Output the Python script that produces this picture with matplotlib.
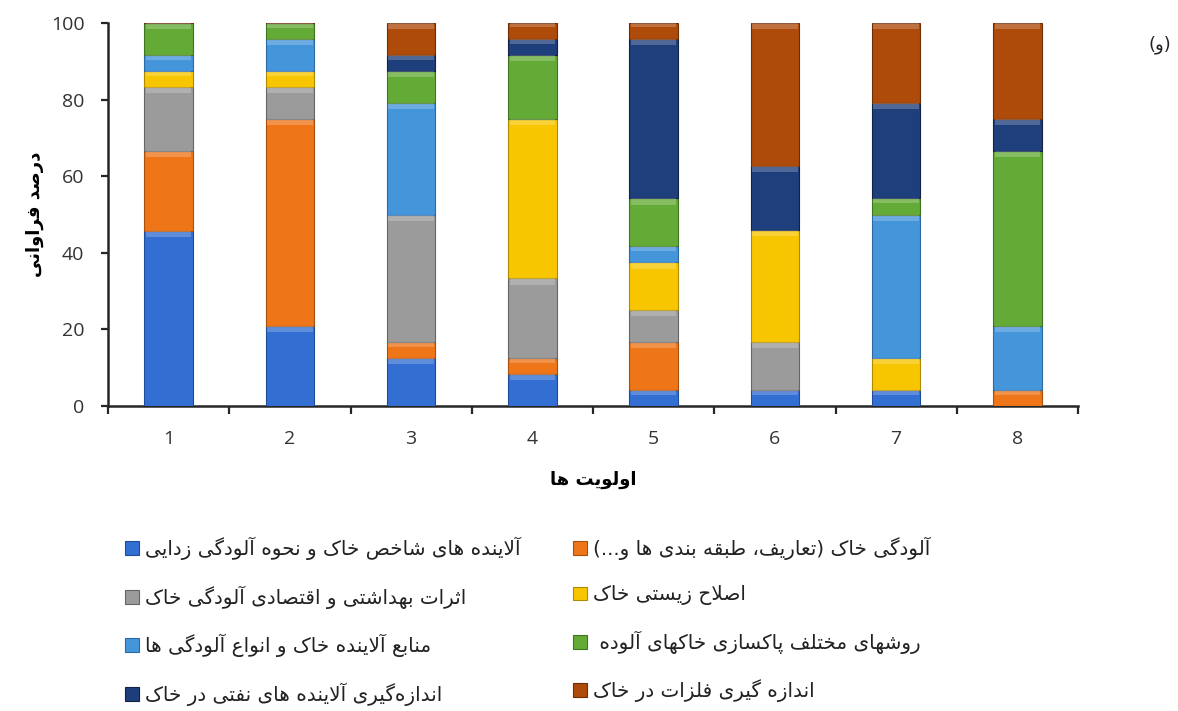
import numpy as np
import matplotlib
matplotlib.use('Agg')
import matplotlib.pyplot as plt
from matplotlib.patches import Patch

# Basic Persian shaping (presentation forms + visual order) since matplotlib has no bidi
FORMS = {
    'ا': ('\uFE8D', '\uFE8E', None, None),
    'آ': ('\uFE81', '\uFE82', None, None),
    'ب': ('\uFE8F', '\uFE90', '\uFE91', '\uFE92'),
    'پ': ('\uFB56', '\uFB57', '\uFB58', '\uFB59'),
    'ت': ('\uFE95', '\uFE96', '\uFE97', '\uFE98'),
    'ث': ('\uFE99', '\uFE9A', '\uFE9B', '\uFE9C'),
    'ج': ('\uFE9D', '\uFE9E', '\uFE9F', '\uFEA0'),
    'ح': ('\uFEA1', '\uFEA2', '\uFEA3', '\uFEA4'),
    'خ': ('\uFEA5', '\uFEA6', '\uFEA7', '\uFEA8'),
    'د': ('\uFEA9', '\uFEAA', None, None),
    'ذ': ('\uFEAB', '\uFEAC', None, None),
    'ر': ('\uFEAD', '\uFEAE', None, None),
    'ز': ('\uFEAF', '\uFEB0', None, None),
    'س': ('\uFEB1', '\uFEB2', '\uFEB3', '\uFEB4'),
    'ش': ('\uFEB5', '\uFEB6', '\uFEB7', '\uFEB8'),
    'ص': ('\uFEB9', '\uFEBA', '\uFEBB', '\uFEBC'),
    'ط': ('\uFEC1', '\uFEC2', '\uFEC3', '\uFEC4'),
    'ع': ('\uFEC9', '\uFECA', '\uFECB', '\uFECC'),
    'ف': ('\uFED1', '\uFED2', '\uFED3', '\uFED4'),
    'ق': ('\uFED5', '\uFED6', '\uFED7', '\uFED8'),
    'ک': ('\uFB8E', '\uFB8F', '\uFB90', '\uFB91'),
    'گ': ('\uFB92', '\uFB93', '\uFB94', '\uFB95'),
    'ل': ('\uFEDD', '\uFEDE', '\uFEDF', '\uFEE0'),
    'م': ('\uFEE1', '\uFEE2', '\uFEE3', '\uFEE4'),
    'ن': ('\uFEE5', '\uFEE6', '\uFEE7', '\uFEE8'),
    'ه': ('\uFEE9', '\uFEEA', '\uFEEB', '\uFEEC'),
    'و': ('\uFEED', '\uFEEE', None, None),
    'ی': ('\uFBFC', '\uFBFD', '\uFBFE', '\uFBFF'),
}
LAM_ALEF = {'ا': ('\uFEFB', '\uFEFC'), 'آ': ('\uFEF5', '\uFEF6')}


def joins_next(c):
    return c in FORMS and FORMS[c][2] is not None


def fa(text):
    chars = list(text)
    out = []
    i = 0
    while i < len(chars):
        c = chars[i]
        if c not in FORMS:
            if c != '\u200c':
                out.append(c)
            i += 1
            continue
        jp = i > 0 and joins_next(chars[i - 1])
        if c == 'ل' and i + 1 < len(chars) and chars[i + 1] in LAM_ALEF:
            iso, fin = LAM_ALEF[chars[i + 1]]
            out.append(fin if jp else iso)
            i += 2
            continue
        jn = joins_next(c) and i + 1 < len(chars) and chars[i + 1] in FORMS
        iso, fin, ini, med = FORMS[c]
        if jp and jn:
            out.append(med)
        elif jp:
            out.append(fin)
        elif jn:
            out.append(ini)
        else:
            out.append(iso)
        i += 1
    vis = ''.join(reversed(out))
    return vis.translate(str.maketrans('()', ')('))


# Data (percent of responses per priority)
priorities = ['1', '2', '3', '4', '5', '6', '7', '8']
series_names = [
    'آلاینده های شاخص خاک و نحوه آلودگی زدایی',
    'آلودگی خاک (تعاریف، طبقه بندی ها و...)',
    'اثرات بهداشتی و اقتصادی آلودگی خاک',
    'اصلاح زیستی خاک',
    'منابع آلاینده خاک و انواع آلودگی ها',
    'روشهای مختلف پاکسازی خاکهای آلوده ',
    'اندازه\u200cگیری آلاینده های نفتی در خاک',
    'اندازه گیری فلزات در خاک',
]
indicator_pollutants = [45.8, 20.8, 12.5, 8.3, 4.2, 4.2, 4.2, 0.0]
soil_pollution = [20.8, 54.2, 4.2, 4.2, 12.5, 0.0, 0.0, 4.2]
health_effects = [16.7, 8.3, 33.3, 20.8, 8.3, 12.5, 0.0, 0.0]
bioremediation = [4.2, 4.2, 0.0, 41.7, 12.5, 29.2, 8.3, 0.0]
pollution_sources = [4.2, 8.3, 29.2, 0.0, 4.2, 0.0, 37.5, 16.7]
cleanup_methods = [8.3, 4.2, 8.3, 16.7, 12.5, 0.0, 4.2, 45.8]
oil_pollutants = [0.0, 0.0, 4.2, 4.2, 41.7, 16.7, 25.0, 8.3]
metals = [0.0, 0.0, 8.3, 4.2, 4.2, 37.5, 20.8, 25.0]

series_values = [indicator_pollutants, soil_pollution, health_effects, bioremediation,
                 pollution_sources, cleanup_methods, oil_pollutants, metals]
colors = ['#336ED2', '#EE7518', '#9B9B9B', '#F7C600', '#4595DB', '#64AA36', '#1F3E7C', '#AE4A0A']
edges = ['#1F4C9A', '#A9500E', '#666666', '#B08A00', '#2B6AA5', '#3F7420', '#0F2248', '#6E2E05']

fig = plt.figure(figsize=(11.78, 7.11), dpi=100)
ax = fig.add_axes([108 / 1178, 1 - 406 / 711, 970 / 1178, 383 / 711])

x = np.arange(1, len(priorities) + 1)
bar_w = 0.40
bottom = np.zeros(len(priorities))
handles = []
for vals, col, ec in zip(series_values, colors, edges):
    vals = np.array(vals)
    ax.bar(x, vals, width=bar_w, bottom=bottom, color=col, edgecolor=ec, linewidth=0.8, zorder=3)
    # bevel look: light band along the top of each segment
    top_h = np.minimum(1.6, 0.3 * vals)
    ax.bar(x, top_h, width=bar_w * 0.94, bottom=bottom + vals - top_h, color='white',
           alpha=0.22, linewidth=0, zorder=4)
    bottom += vals
    handles.append(Patch(facecolor=col, edgecolor=ec, linewidth=0.8))

ax.set_xlim(0.5, 8.5)
ax.set_ylim(0, 100)
ax.set_yticks([0, 20, 40, 60, 80, 100])
ax.set_xticks(x)
ax.set_xticklabels(priorities)
ax.set_xticks(np.arange(0.5, 9.0, 1.0), minor=True)

for side in ['top', 'right']:
    ax.spines[side].set_visible(False)
for side in ['left', 'bottom']:
    ax.spines[side].set_linewidth(1.8)
    ax.spines[side].set_color('#262626')

ax.tick_params(axis='y', direction='out', length=5, width=1.6, color='#262626',
               labelsize=14, labelcolor='#333333', pad=12)
ax.tick_params(axis='x', which='major', length=0, labelsize=14, labelcolor='#333333', pad=17)
ax.tick_params(axis='x', which='minor', direction='out', length=6, width=1.6, color='#262626')
for lbl in ax.get_xticklabels() + ax.get_yticklabels():
    lbl.set_family('Open Sans')

ax.set_xlabel(fa('اولویت ها'), fontsize=13, fontweight='bold', family='DejaVu Sans', labelpad=17)
ax.set_ylabel(fa('درصد فراوانی'), fontsize=13, fontweight='bold', family='DejaVu Sans', labelpad=5)

fig.text(1160 / 1178, 1 - 45 / 711, fa('(و)'), fontsize=13, family='DejaVu Sans',
         ha='center', va='center', color='#222222')

# Two legend columns placed separately, row-wise order as in the original
leg_kw = dict(loc='upper left', frameon=False, borderpad=0, borderaxespad=0,
              handlelength=0.68, handleheight=0.68, handletextpad=0.32, labelspacing=1.26,
              prop={'family': 'DejaVu Sans', 'size': 14.4})
left_idx = [0, 2, 4, 6]
right_idx = [1, 3, 5, 7]
leg1 = fig.legend([handles[i] for i in left_idx], [fa(series_names[i]) for i in left_idx],
                  bbox_to_anchor=(125 / 1178, 1 - 537 / 711), **leg_kw)
leg2 = fig.legend([handles[i] for i in right_idx], [fa(series_names[i]) for i in right_idx],
                  bbox_to_anchor=(573 / 1178, 1 - 537 / 711), **leg_kw)
for leg in (leg1, leg2):
    for t in leg.get_texts():
        t.set_color('#222222')

fig.savefig('out.png', dpi=100)
